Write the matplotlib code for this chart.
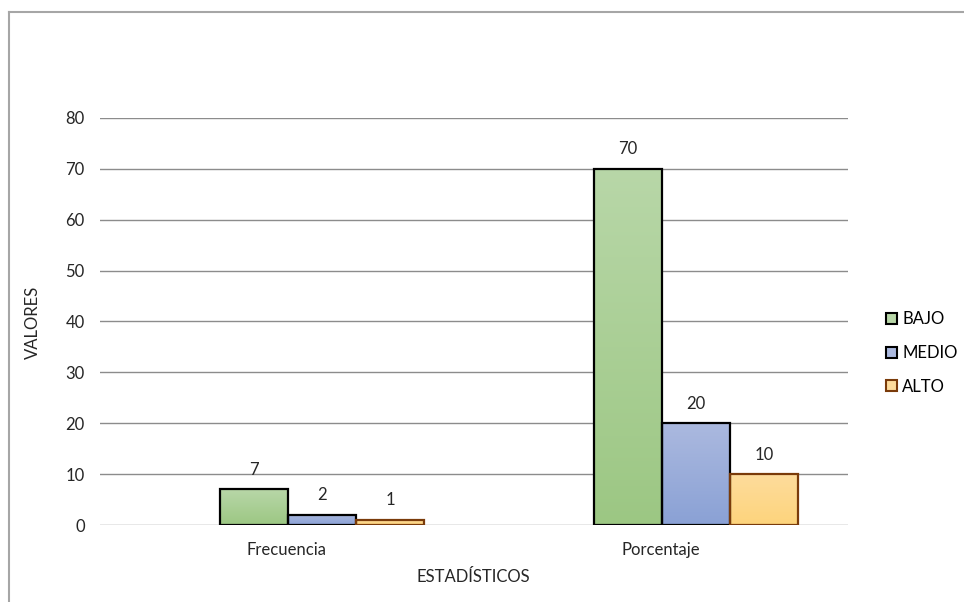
import numpy as np
import matplotlib.pyplot as plt
from matplotlib.colors import LinearSegmentedColormap
from matplotlib.lines import Line2D
from matplotlib.patches import Patch

plt.rcParams['font.family'] = ['Lato', 'DejaVu Sans']

categorias = ['Frecuencia', 'Porcentaje']
niveles = ['BAJO', 'MEDIO', 'ALTO']
bajo = [7, 70]
medio = [2, 20]
alto = [1, 10]

# (color arriba, color abajo, borde)
estilos = {
    'BAJO': ('#b8d7a8', '#9cc783', '#000000'),
    'MEDIO': ('#abb9df', '#8aa1d5', '#000000'),
    'ALTO': ('#fedc9c', '#fdd47c', '#7a3b0a'),
}

fig = plt.figure(figsize=(9.64, 6.02), dpi=100)
ax = fig.add_axes([100 / 964, 1 - 525 / 602, 748 / 964, 407 / 602])

x = np.arange(len(categorias))
ancho = 0.182
desplaz = [-0.088, 0.094, 0.276]

ax.set_yticks(range(0, 81, 10))
ax.yaxis.grid(True, color='#8c8c8c', linewidth=1.0)
ax.set_axisbelow(True)
for s in ax.spines.values():
    s.set_visible(False)
ax.tick_params(axis='y', length=0, pad=11, labelsize=12, labelcolor='#262626')
ax.tick_params(axis='x', length=0, pad=12, labelsize=12, labelcolor='#262626')
ax.set_xticks(x)
ax.set_xticklabels(categorias)

grad = np.linspace(0, 1, 256).reshape(-1, 1)
handles = []
for nivel, valores, dx in zip(niveles, [bajo, medio, alto], desplaz):
    top, bot, borde = estilos[nivel]
    cmap = LinearSegmentedColormap.from_list(nivel, [bot, top])
    barras = ax.bar(x + dx, valores, ancho, color=top, edgecolor=borde,
                    linewidth=1.6, zorder=2)
    for b, v in zip(barras, valores):
        b.set_facecolor('none')
        img = ax.imshow(grad, cmap=cmap, origin='lower', aspect='auto',
                        extent=[b.get_x(), b.get_x() + b.get_width(), 0, v],
                        zorder=1.9)
        img.set_clip_path(b)
        ax.annotate(str(v), (b.get_x() + b.get_width() / 2, v),
                    xytext=(0, 14), textcoords='offset points',
                    ha='center', va='center', fontsize=12, color='#262626')
    handles.append(Patch(facecolor=top, edgecolor=borde, linewidth=1.5, label=nivel))

ax.set_xlim(-0.5, 1.5)
ax.set_ylim(0, 80)

fig.legend(handles=handles, loc='center left', bbox_to_anchor=(878 / 964, 1 - 353 / 602),
           frameon=False, fontsize=12, handlelength=0.65, handleheight=0.65,
           handletextpad=0.3, labelspacing=1.05, borderpad=0)

fig.text(33 / 964, 1 - 322 / 602, 'VALORES', rotation=90, ha='center', va='center',
         fontsize=12, color='#262626')
fig.text(473 / 964, 1 - 577 / 602, 'ESTADÍSTICOS', ha='center', va='center',
         fontsize=12, color='#262626')

# marco exterior del gráfico
fig.add_artist(Line2D([9 / 964, 1], [1 - 12 / 602] * 2, transform=fig.transFigure,
                      color='#a6a6a6', linewidth=1.5))
fig.add_artist(Line2D([9 / 964] * 2, [0, 1 - 12 / 602], transform=fig.transFigure,
                      color='#a6a6a6', linewidth=1.5))

fig.savefig('out.png', dpi=100, facecolor='white')
